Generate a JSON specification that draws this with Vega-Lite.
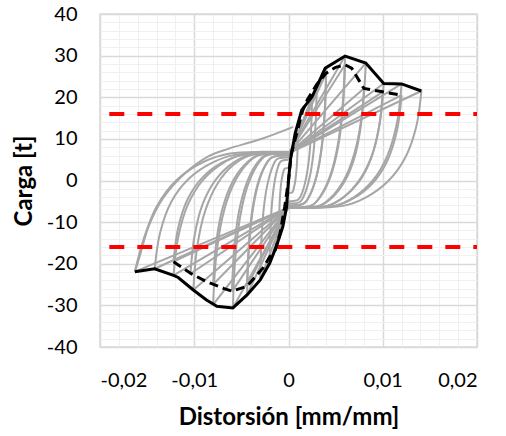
{
  "$schema": "https://vega.github.io/schema/vega-lite/v6.json",
  "width": 377,
  "height": 333,
  "autosize": "none",
  "padding": {"left": 100, "top": 14, "right": 29, "bottom": 89},
  "background": "white",
  "config": {
    "view": {"stroke": "#d9d9d9", "strokeWidth": 1.5},
    "axis": {"labelFont": "Lato", "titleFont": "Lato", "labelColor": "#000000", "titleColor": "#000000"}
  },
  "datasets": {
    "loops": [
      {"s":"1a","x":0,"y":3},{"s":"1a","x":0.001,"y":12},
      {"s":"1b","x":0.001,"y":12},{"s":"1b","x":0.00096,"y":7.4},{"s":"1b","x":0.000875,"y":3.3},{"s":"1b","x":0.000745,"y":0.3},{"s":"1b","x":0.00058,"y":-1.7},{"s":"1b","x":0.00041,"y":-2.8},{"s":"1b","x":0,"y":-3},
      {"s":"1c","x":0,"y":-3},{"s":"1c","x":-0.001,"y":-11},
      {"s":"1d","x":-0.001,"y":-11},{"s":"1d","x":-0.00096,"y":-6.7},{"s":"1d","x":-0.000875,"y":-2.9},{"s":"1d","x":-0.000745,"y":-0.1},{"s":"1d","x":-0.00058,"y":1.8},{"s":"1d","x":-0.00041,"y":2.8},{"s":"1d","x":0,"y":3},

      {"s":"2a","x":0,"y":5},{"s":"2a","x":0.0025,"y":20.1},
      {"s":"2b","x":0.0025,"y":20.1},{"s":"2b","x":0.0024,"y":12.3},{"s":"2b","x":0.00219,"y":5.5},{"s":"2b","x":0.00186,"y":0.5},{"s":"2b","x":0.00145,"y":-2.9},{"s":"2b","x":0.00103,"y":-4.6},{"s":"2b","x":0,"y":-5},
      {"s":"2c","x":0,"y":-5},{"s":"2c","x":-0.002,"y":-19.9},
      {"s":"2d","x":-0.002,"y":-19.9},{"s":"2d","x":-0.00192,"y":-12.2},{"s":"2d","x":-0.00175,"y":-5.5},{"s":"2d","x":-0.00149,"y":-0.5},{"s":"2d","x":-0.00116,"y":2.9},{"s":"2d","x":-0.00082,"y":4.6},{"s":"2d","x":0,"y":5},

      {"s":"3a","x":0,"y":5.5},{"s":"3a","x":0.003,"y":22.5},
      {"s":"3b","x":0.003,"y":22.5},{"s":"3b","x":0.00288,"y":13.8},{"s":"3b","x":0.00263,"y":6.3},{"s":"3b","x":0.00224,"y":0.7},{"s":"3b","x":0.00174,"y":-3.1},{"s":"3b","x":0.00123,"y":-5.1},{"s":"3b","x":0,"y":-5.5},
      {"s":"3c","x":0,"y":-5.5},{"s":"3c","x":-0.003,"y":-23.9},
      {"s":"3d","x":-0.003,"y":-23.9},{"s":"3d","x":-0.00288,"y":-14.8},{"s":"3d","x":-0.00263,"y":-6.8},{"s":"3d","x":-0.00224,"y":-1.0},{"s":"3d","x":-0.00174,"y":3.0},{"s":"3d","x":-0.00123,"y":5.1},{"s":"3d","x":0,"y":5.5},

      {"s":"4a","x":0,"y":6},{"s":"4a","x":0.004,"y":26.9},
      {"s":"4b","x":0.004,"y":26.9},{"s":"4b","x":0.00384,"y":16.7},{"s":"4b","x":0.0035,"y":7.8},{"s":"4b","x":0.00298,"y":1.2},{"s":"4b","x":0.00232,"y":-3.2},{"s":"4b","x":0.00164,"y":-5.5},{"s":"4b","x":0,"y":-6},
      {"s":"4c","x":0,"y":-6},{"s":"4c","x":-0.0044,"y":-27.5},
      {"s":"4d","x":-0.0044,"y":-27.5},{"s":"4d","x":-0.00422,"y":-17.1},{"s":"4d","x":-0.00385,"y":-8.1},{"s":"4d","x":-0.00328,"y":-1.4},{"s":"4d","x":-0.00255,"y":3.2},{"s":"4d","x":-0.0018,"y":5.5},{"s":"4d","x":0,"y":6},

      {"s":"5a","x":0,"y":6},{"s":"5a","x":0.004,"y":25.8},
      {"s":"5b","x":0.004,"y":25.8},{"s":"5b","x":0.00384,"y":15.9},{"s":"5b","x":0.0035,"y":7.4},{"s":"5b","x":0.00298,"y":1.0},{"s":"5b","x":0.00232,"y":-3.3},{"s":"5b","x":0.00164,"y":-5.5},{"s":"5b","x":0,"y":-6},
      {"s":"5c","x":0,"y":-6},{"s":"5c","x":-0.0044,"y":-25.4},
      {"s":"5d","x":-0.0044,"y":-25.4},{"s":"5d","x":-0.00422,"y":-15.7},{"s":"5d","x":-0.00385,"y":-7.2},{"s":"5d","x":-0.00328,"y":-0.9},{"s":"5d","x":-0.00255,"y":3.3},{"s":"5d","x":-0.0018,"y":5.5},{"s":"5d","x":0,"y":6},

      {"s":"6a","x":0,"y":6.5},{"s":"6a","x":0.006,"y":29.9},
      {"s":"6b","x":0.006,"y":29.9},{"s":"6b","x":0.00576,"y":18.6},{"s":"6b","x":0.00525,"y":8.8},{"s":"6b","x":0.00447,"y":1.5},{"s":"6b","x":0.00348,"y":-3.4},{"s":"6b","x":0.00246,"y":-6.0},{"s":"6b","x":0,"y":-6.5},
      {"s":"6c","x":0,"y":-6.5},{"s":"6c","x":-0.0059,"y":-30.6},
      {"s":"6d","x":-0.0059,"y":-30.6},{"s":"6d","x":-0.00566,"y":-19.1},{"s":"6d","x":-0.00516,"y":-9.1},{"s":"6d","x":-0.0044,"y":-1.7},{"s":"6d","x":-0.00342,"y":3.3},{"s":"6d","x":-0.00242,"y":5.9},{"s":"6d","x":0,"y":6.5},

      {"s":"7a","x":0,"y":6.5},{"s":"7a","x":0.006,"y":27.8},
      {"s":"7b","x":0.006,"y":27.8},{"s":"7b","x":0.00576,"y":17.2},{"s":"7b","x":0.00525,"y":7.9},{"s":"7b","x":0.00447,"y":1.0},{"s":"7b","x":0.00348,"y":-3.6},{"s":"7b","x":0.00246,"y":-6.0},{"s":"7b","x":0,"y":-6.5},
      {"s":"7c","x":0,"y":-6.5},{"s":"7c","x":-0.006,"y":-26.7},
      {"s":"7d","x":-0.006,"y":-26.7},{"s":"7d","x":-0.00576,"y":-16.4},{"s":"7d","x":-0.00525,"y":-7.4},{"s":"7d","x":-0.00447,"y":-0.8},{"s":"7d","x":-0.00348,"y":3.7},{"s":"7d","x":-0.00246,"y":6.0},{"s":"7d","x":0,"y":6.5},

      {"s":"8a","x":0,"y":6.5},{"s":"8a","x":0.0082,"y":28.2},
      {"s":"8b","x":0.0082,"y":28.2},{"s":"8b","x":0.00787,"y":17.4},{"s":"8b","x":0.00718,"y":8.1},{"s":"8b","x":0.00611,"y":1.1},{"s":"8b","x":0.00476,"y":-3.5},{"s":"8b","x":0.00336,"y":-6.0},{"s":"8b","x":0,"y":-6.5},
      {"s":"8c","x":0,"y":-6.5},{"s":"8c","x":-0.008,"y":-29.8},
      {"s":"8d","x":-0.008,"y":-29.8},{"s":"8d","x":-0.00768,"y":-18.5},{"s":"8d","x":-0.007,"y":-8.7},{"s":"8d","x":-0.00596,"y":-1.5},{"s":"8d","x":-0.00464,"y":3.4},{"s":"8d","x":-0.00328,"y":6.0},{"s":"8d","x":0,"y":6.5},

      {"s":"9a","x":0,"y":6.5},{"s":"9a","x":0.008,"y":22.1},
      {"s":"9b","x":0.008,"y":22.1},{"s":"9b","x":0.00768,"y":13.2},{"s":"9b","x":0.007,"y":5.5},{"s":"9b","x":0.00596,"y":-0.2},{"s":"9b","x":0.00464,"y":-4.1},{"s":"9b","x":0.00328,"y":-6.1},{"s":"9b","x":0,"y":-6.5},
      {"s":"9c","x":0,"y":-6.5},{"s":"9c","x":-0.008,"y":-25},
      {"s":"9d","x":-0.008,"y":-25},{"s":"9d","x":-0.00768,"y":-15.2},{"s":"9d","x":-0.007,"y":-6.7},{"s":"9d","x":-0.00596,"y":-0.4},{"s":"9d","x":-0.00464,"y":3.8},{"s":"9d","x":-0.00328,"y":6.0},{"s":"9d","x":0,"y":6.5},

      {"s":"10a","x":0,"y":6.5},{"s":"10a","x":0.0101,"y":23.3},
      {"s":"10b","x":0.0101,"y":23.3},{"s":"10b","x":0.0097,"y":14.1},{"s":"10b","x":0.00884,"y":6.0},{"s":"10b","x":0.00752,"y":0.1},{"s":"10b","x":0.00586,"y":-4.0},{"s":"10b","x":0.00414,"y":-6.1},{"s":"10b","x":0,"y":-6.5},
      {"s":"10c","x":0,"y":-6.5},{"s":"10c","x":-0.0101,"y":-26.3},
      {"s":"10d","x":-0.0101,"y":-26.3},{"s":"10d","x":-0.0097,"y":-16.1},{"s":"10d","x":-0.00884,"y":-7.3},{"s":"10d","x":-0.00752,"y":-0.7},{"s":"10d","x":-0.00586,"y":3.7},{"s":"10d","x":-0.00414,"y":6.0},{"s":"10d","x":0,"y":6.5},

      {"s":"11a","x":0,"y":6.5},{"s":"11a","x":0.01,"y":21.3},
      {"s":"11b","x":0.01,"y":21.3},{"s":"11b","x":0.0096,"y":12.7},{"s":"11b","x":0.00875,"y":5.2},{"s":"11b","x":0.00745,"y":-0.4},{"s":"11b","x":0.0058,"y":-4.1},{"s":"11b","x":0.0041,"y":-6.1},{"s":"11b","x":0,"y":-6.5},
      {"s":"11c","x":0,"y":-6.5},{"s":"11c","x":-0.0104,"y":-22.4},
      {"s":"11d","x":-0.0104,"y":-22.4},{"s":"11d","x":-0.00998,"y":-13.4},{"s":"11d","x":-0.0091,"y":-5.6},{"s":"11d","x":-0.00775,"y":0.1},{"s":"11d","x":-0.00603,"y":4.0},{"s":"11d","x":-0.00426,"y":6.1},{"s":"11d","x":0,"y":6.5},

      {"s":"12a","x":0,"y":6.5},{"s":"12a","x":0.012,"y":23.2},
      {"s":"12b","x":0.012,"y":23.2},{"s":"12b","x":0.01152,"y":14.0},{"s":"12b","x":0.0105,"y":6.0},{"s":"12b","x":0.00894,"y":0.0},{"s":"12b","x":0.00696,"y":-4.0},{"s":"12b","x":0.00492,"y":-6.1},{"s":"12b","x":0,"y":-6.5},
      {"s":"12c","x":0,"y":-6.5},{"s":"12c","x":-0.0122,"y":-22.8},
      {"s":"12d","x":-0.0122,"y":-22.8},{"s":"12d","x":-0.01171,"y":-13.7},{"s":"12d","x":-0.01068,"y":-5.8},{"s":"12d","x":-0.00909,"y":0.1},{"s":"12d","x":-0.00708,"y":4.0},{"s":"12d","x":-0.005,"y":6.1},{"s":"12d","x":0,"y":6.5},

      {"s":"13a","x":0,"y":6.5},{"s":"13a","x":0.012,"y":20.5},
      {"s":"13b","x":0.012,"y":20.5},{"s":"13b","x":0.01152,"y":12.1},{"s":"13b","x":0.0105,"y":4.8},{"s":"13b","x":0.00894,"y":-0.6},{"s":"13b","x":0.00696,"y":-4.2},{"s":"13b","x":0.00492,"y":-6.1},{"s":"13b","x":0,"y":-6.5},
      {"s":"13c","x":0,"y":-6.5},{"s":"13c","x":-0.0122,"y":-19.5},
      {"s":"13d","x":-0.0122,"y":-19.5},{"s":"13d","x":-0.01171,"y":-11.4},{"s":"13d","x":-0.01068,"y":-4.4},{"s":"13d","x":-0.00909,"y":0.8},{"s":"13d","x":-0.00708,"y":4.3},{"s":"13d","x":-0.005,"y":6.1},{"s":"13d","x":0,"y":6.5},

      {"s":"14a","x":0,"y":6.5},{"s":"14a","x":0.0141,"y":21.5},
      {"s":"14b","x":0.0141,"y":21.5},{"s":"14b","x":0.01354,"y":12.8},{"s":"14b","x":0.01234,"y":5.3},{"s":"14b","x":0.0105,"y":-0.3},{"s":"14b","x":0.00818,"y":-4.1},{"s":"14b","x":0.00578,"y":-6.1},{"s":"14b","x":0,"y":-6.5},
      {"s":"14c","x":0,"y":-6.5},{"s":"14c","x":-0.0142,"y":-21.2},
      {"s":"14d","x":-0.0142,"y":-21.2},{"s":"14d","x":-0.01363,"y":-12.6},{"s":"14d","x":-0.01243,"y":-5.1},{"s":"14d","x":-0.01058,"y":0.4},{"s":"14d","x":-0.00824,"y":4.1},{"s":"14d","x":-0.00582,"y":6.1},{"s":"14d","x":0,"y":6.5},

      {"s":"15c","x":0,"y":-6.5},{"s":"15c","x":-0.0163,"y":-21.9},
      {"s":"15d","x":-0.0163,"y":-21.9},{"s":"15d","x":-0.0154,"y":-14.3},{"s":"15d","x":-0.014,"y":-6.3},{"s":"15d","x":-0.01186,"y":0.1},{"s":"15d","x":-0.009,"y":4.5},{"s":"15d","x":-0.0062,"y":6.5},{"s":"15d","x":-0.0027,"y":6.9},{"s":"15d","x":0,"y":6.9},
      {"s":"16d","x":-0.0163,"y":-21.9},{"s":"16d","x":-0.0158,"y":-18.3},{"s":"16d","x":-0.0148,"y":-10.8},{"s":"16d","x":-0.0133,"y":-4.2},{"s":"16d","x":-0.011,"y":1.7},{"s":"16d","x":-0.0085,"y":5.8},{"s":"16d","x":-0.0064,"y":7.6},{"s":"16d","x":-0.003,"y":9.9},{"s":"16d","x":0.0005,"y":12.9}
    ],
    "limits": [{"y": 16}, {"y": -16}],
    "dashed": [
      {"x":-0.0122,"y":-19.5},{"x":-0.0104,"y":-22.3},{"x":-0.0087,"y":-24.3},{"x":-0.0069,"y":-25.9},{"x":-0.006,"y":-26.6},{"x":-0.0044,"y":-25.4},{"x":-0.0027,"y":-21.0},{"x":-0.002,"y":-18.4},{"x":-0.0014,"y":-16.7},{"x":-0.0009,"y":-12.7},{"x":-0.0004,"y":-6.3},{"x":0,"y":0},{"x":0.0003,"y":6.5},{"x":0.0009,"y":11.5},{"x":0.0015,"y":16.8},{"x":0.002,"y":19.4},{"x":0.003,"y":23.1},{"x":0.004,"y":25.8},{"x":0.005,"y":27.2},{"x":0.006,"y":27.8},{"x":0.0067,"y":27.0},{"x":0.008,"y":22.1},{"x":0.01,"y":21.3},{"x":0.012,"y":20.5}
    ],
    "solid": [
      {"x":-0.0163,"y":-21.9},{"x":-0.0142,"y":-21.2},{"x":-0.0122,"y":-22.8},{"x":-0.0117,"y":-23.3},{"x":-0.0101,"y":-26.3},{"x":-0.0087,"y":-28.7},{"x":-0.0076,"y":-30.2},{"x":-0.0059,"y":-30.6},{"x":-0.0044,"y":-27.5},{"x":-0.003,"y":-23.9},{"x":-0.002,"y":-19.9},{"x":-0.0013,"y":-15.9},{"x":-0.0006,"y":-11.1},{"x":-0.0002,"y":-6.3},{"x":0,"y":0},{"x":0.0002,"y":4.9},{"x":0.0007,"y":11.3},{"x":0.0014,"y":16.9},{"x":0.0025,"y":20.1},{"x":0.0039,"y":27.0},{"x":0.006,"y":29.9},{"x":0.0082,"y":28.2},{"x":0.0101,"y":23.3},{"x":0.012,"y":23.2},{"x":0.0141,"y":21.5}
    ]
  },
  "resolve": {"axis": {"x": "independent", "y": "independent"}},
  "layer": [
    {
      "data": {"name": "loops"},
      "mark": {"type": "line", "color": "#a6a6a6", "strokeWidth": 2, "interpolate": "catmull-rom", "clip": true},
      "encoding": {
        "x": {"field": "x", "type": "quantitative", "scale": {"domain": [-0.02, 0.02], "nice": false, "zero": false},
          "axis": {"orient": "top", "values": [-0.02,-0.018,-0.016,-0.014,-0.012,-0.01,-0.008,-0.006,-0.004,-0.002,0,0.002,0.004,0.006,0.008,0.01,0.012,0.014,0.016,0.018,0.02], "grid": true, "gridColor": "#f0f0f0", "gridWidth": 1, "labels": false, "ticks": false, "domain": false, "title": null}},
        "y": {"field": "y", "type": "quantitative", "scale": {"domain": [-40, 40], "nice": false, "zero": false},
          "axis": {"orient": "right", "values": [-40,-38,-36,-34,-32,-30,-28,-26,-24,-22,-20,-18,-16,-14,-12,-10,-8,-6,-4,-2,0,2,4,6,8,10,12,14,16,18,20,22,24,26,28,30,32,34,36,38,40], "grid": true, "gridColor": "#f0f0f0", "gridWidth": 1, "labels": false, "ticks": false, "domain": false, "title": null}},
        "detail": {"field": "s"},
        "order": {"value": null}
      }
    },
    {
      "data": {"name": "limits"},
      "mark": {"type": "rule", "color": "#ff0000", "strokeWidth": 4, "strokeDash": [15, 13], "strokeDashOffset": 11.3},
      "encoding": {
        "y": {"field": "y", "type": "quantitative", "axis": null}
      }
    },
    {
      "data": {"name": "dashed"},
      "mark": {"type": "line", "color": "#000000", "strokeWidth": 3, "strokeDash": [9, 5]},
      "encoding": {
        "x": {"field": "x", "type": "quantitative", "axis": null},
        "y": {"field": "y", "type": "quantitative", "axis": null},
        "order": {"value": null}
      }
    },
    {
      "data": {"name": "solid"},
      "mark": {"type": "line", "color": "#000000", "strokeWidth": 3},
      "encoding": {
        "x": {"field": "x", "type": "quantitative",
          "axis": {"orient": "bottom", "values": [-0.02, -0.01, 0, 0.01, 0.02], "grid": true, "gridColor": "#d9d9d9", "gridWidth": 1.5, "domain": false, "ticks": false, "tickSize": 0, "labelPadding": 23, "labelFontSize": 20, "labelExpr": "datum.value == 0 ? '0' : replace(toString(datum.value), '.', ',')", "title": "Distorsión [mm/mm]", "titleFontSize": 24, "titleFontWeight": "bold", "titlePadding": 15}},
        "y": {"field": "y", "type": "quantitative",
          "axis": {"orient": "left", "values": [-40, -30, -20, -10, 0, 10, 20, 30, 40], "grid": true, "gridColor": "#d9d9d9", "gridWidth": 1.5, "domain": false, "ticks": false, "tickSize": 0, "labelPadding": 23, "labelFontSize": 20, "labelExpr": "toString(datum.value)", "title": "Carga [t]", "titleFontSize": 24, "titleFontWeight": "bold", "titlePadding": 10}},
        "order": {"value": null}
      }
    }
  ]
}
